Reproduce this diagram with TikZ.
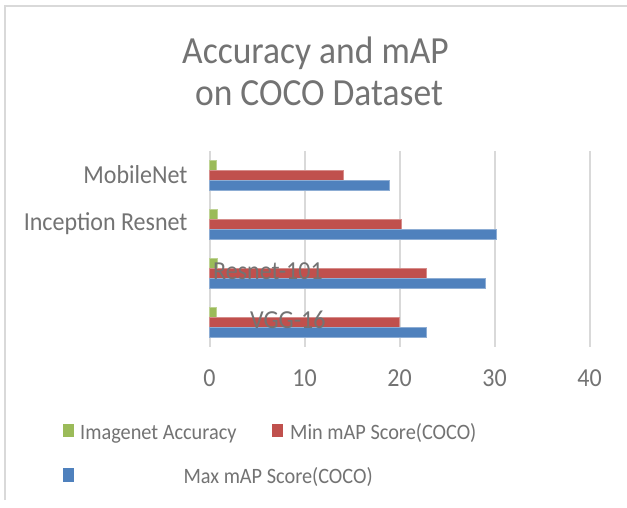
\documentclass[tikz,border=0pt]{standalone}
\usepackage{fontspec}
\usepackage{graphicx}
\setmainfont{Carlito}
\definecolor{txt}{HTML}{737373}
\definecolor{gridc}{HTML}{D9D9D9}
\definecolor{gbar}{HTML}{9BBB59}
\definecolor{rbar}{HTML}{C0504D}
\definecolor{bbar}{HTML}{4F81BD}
\newcommand{\vstretch}[1]{\scalebox{1}[1.08]{#1}}
\begin{document}
\begin{tikzpicture}[x=1pt,y=-1pt,
  gridline/.style={draw=gridc,line width=2pt},
  frameline/.style={draw=gridc,line width=1.6pt},
  titletext/.style={text=txt,inner sep=0pt,anchor=base,font=\fontsize{35.5}{40}\selectfont},
  cattext/.style={text=txt,inner sep=0pt,font=\fontsize{24}{28}\selectfont},
  ticktext/.style={text=txt,inner sep=0pt,anchor=base,font=\fontsize{24}{28}\selectfont},
  legtext/.style={text=txt,inner sep=0pt,anchor=base west,font=\fontsize{20.3}{24}\selectfont},
  legsq/.style={inner sep=0pt,minimum width=11.3pt,minimum height=13.3pt},
  gbarstyle/.style={fill=gbar,draw=gbar!65!white,line width=0.6pt},
  rbarstyle/.style={fill=rbar,draw=rbar!65!white,line width=0.6pt},
  bbarstyle/.style={fill=bbar,draw=bbar!65!white,line width=0.6pt}]
\useasboundingbox (0,0) rectangle (627,508);
\fill[white] (0,0) rectangle (627,508);
% frame
\draw[frameline] (5,500) -- (5,6) -- (627,6);
% title
\node[titletext] (title1) at (315.5,63.3) {\vstretch{Accuracy and mAP}};
\node[titletext] (title2) at (319,106) {\vstretch{on COCO Dataset}};
% gridlines and tick labels
\foreach \v in {0,10,20,30,40} {
  \draw[gridline] ({209.5+9.5*\v},151) -- ({209.5+9.5*\v},347);
  \node[ticktext] (tick\v) at ({209.5+9.5*\v},386.7) {\vstretch{\v}};
}
% bars
\foreach \k/\g/\r/\b in {0/0.7/14.1/18.9, 1/0.8/20.2/30.2, 2/0.77/22.8/29.0, 3/0.71/20.0/22.8} {
  \pgfmathsetmacro\yy{160.7+48.7*\k}
  \path[gbarstyle] (209.5,\yy) rectangle ({209.5+9.5*\g},{\yy+10});
  \path[rbarstyle] (209.5,{\yy+10}) rectangle ({209.5+9.5*\r},{\yy+20});
  \path[bbarstyle] (209.5,{\yy+20}) rectangle ({209.5+9.5*\b},{\yy+30});
}
% category labels
\node[cattext,anchor=base east] (cat1) at (187.7,183.3) {\vstretch{MobileNet}};
\node[cattext,anchor=base east] (cat2) at (187.7,230.7) {\vstretch{Inception Resnet}};
\node[cattext,anchor=base west] (cat3) at (213,279.3) {\vstretch{Resnet-101}};
\node[cattext,anchor=base west] (cat4) at (250,328.3) {\vstretch{VGG-16}};
% legend
\node[legsq,fill=gbar] (leg1sq) at (68.35,430.65) {};
\node[legtext] (leg1) at (80,439.3) {\vstretch{Imagenet Accuracy}};
\node[legsq,fill=rbar] (leg2sq) at (277.65,430.65) {};
\node[legtext] (leg2) at (290,439.3) {\vstretch{Min mAP Score(COCO)}};
\node[legsq,fill=bbar] (leg3sq) at (68.35,475) {};
\node[legtext] (leg3) at (183.3,483.3) {\vstretch{Max mAP Score(COCO)}};
\end{tikzpicture}
\end{document}
